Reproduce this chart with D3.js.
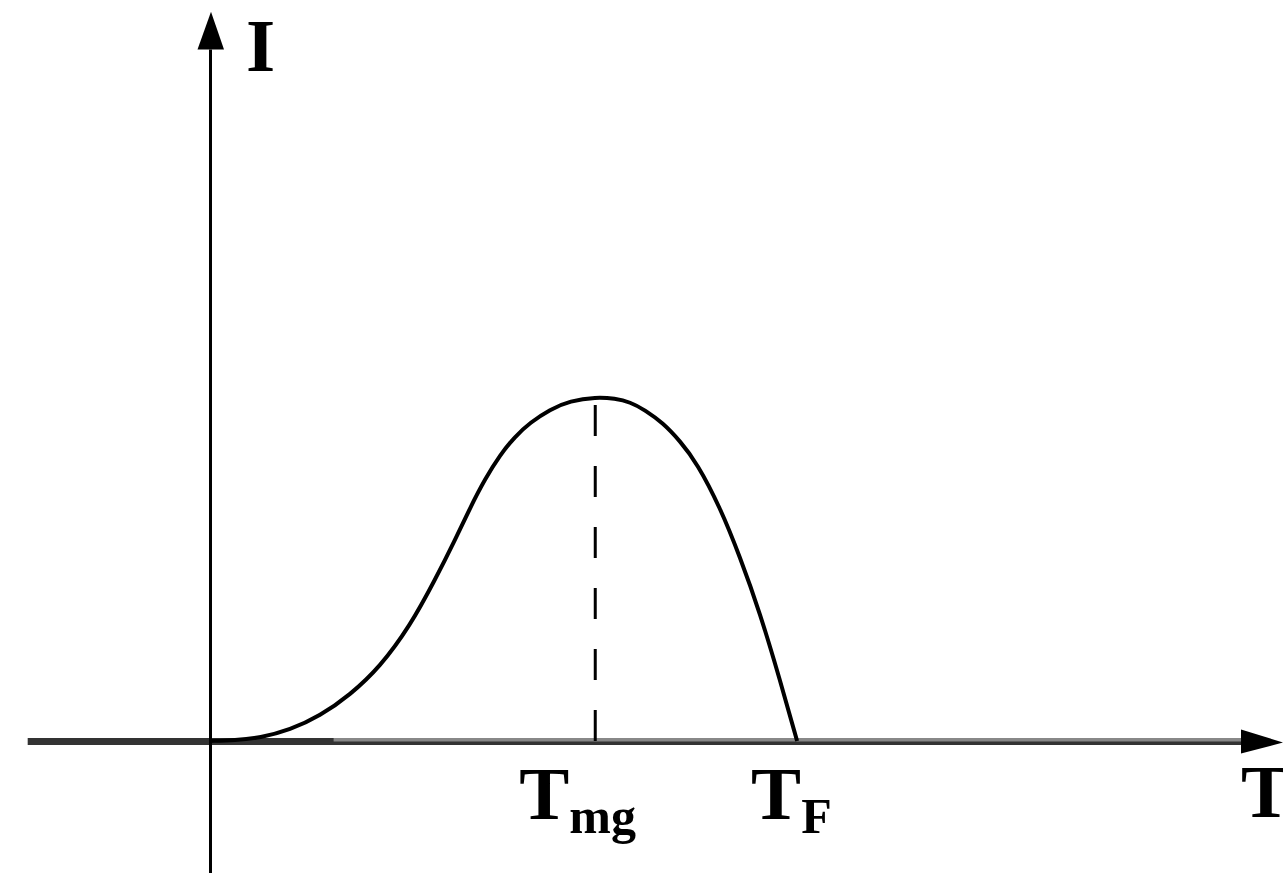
<!DOCTYPE html>
<html>
<head>
<meta charset="utf-8">
<script src="https://cdn.jsdelivr.net/npm/d3@7"></script>
<style>
  html, body { margin: 0; padding: 0; background: #fff; overflow: hidden; }
  #vis { width: 1283px; height: 873px; }
</style>
</head>
<body>
<div id="vis"></div>
<script>
// curve samples: temperature T (arbitrary units) and intensity I (relative to peak)
var curveT = [0, 2.43, 4.85, 7.77, 10.68, 13.59, 16.50, 19.42, 21.84, 23.79, 25.24, 26.70, 28.16, 29.61, 31.07, 33.01, 34.95, 37.48, 39.32, 40.78, 42.23, 43.98, 45.63, 47.28, 49.51, 51.46, 53.40, 55.34, 57.0];
var curveI = [0, 0.0023, 0.0087, 0.032, 0.0727, 0.1337, 0.2151, 0.3343, 0.468, 0.5843, 0.6773, 0.7616, 0.8314, 0.8852, 0.9253, 0.9642, 0.9887, 1.0, 0.9956, 0.9855, 0.9622, 0.9244, 0.8721, 0.8081, 0.6802, 0.5349, 0.3721, 0.1773, 0];

// marked temperatures on the T axis
var markNames = ["T_mg", "T_F"];
var markValues = [37.5, 57.0];
var peakT = 37.5;
var peakI = 1.0;

// axis extents
var tExtent = [-17.7, 104.2];
var iExtent = [-0.385, 2.12];
var axisTitles = ["I", "T"];

var W = 1283, H = 873;
var font = '"Liberation Serif", "Times New Roman", serif';

var x = d3.scaleLinear().domain([0, 100]).range([210, 1240]);
var y = d3.scaleLinear().domain([0, 1]).range([741, 397]);

var svg = d3.select("#vis")
    .append("svg")
    .attr("width", W)
    .attr("height", H);

var curve = curveT.map(function (t, i) { return { t: t, v: curveI[i] }; });

// T axis: dark lower band all along, lighter top band after the first stretch
svg.append("line")
    .attr("x1", x(tExtent[0])).attr("x2", x(100.2))
    .attr("y1", y(0) + 0.5).attr("y2", y(0) + 0.5)
    .attr("stroke", "#333").attr("stroke-width", 7);
svg.append("line")
    .attr("x1", x(12.0)).attr("x2", x(100.2))
    .attr("y1", y(0) - 1.2).attr("y2", y(0) - 1.2)
    .attr("stroke", "#888").attr("stroke-width", 3.4);

svg.append("path")
    .attr("d", d3.line()([
        [x(100.1), y(0) - 11.5],
        [x(tExtent[1]), y(0) + 1.5],
        [x(100.1), y(0) + 12.5]
    ]) + "Z")
    .attr("fill", "#000");

// I axis
svg.append("line")
    .attr("x1", x(0) + 0.5).attr("x2", x(0) + 0.5)
    .attr("y1", y(iExtent[0])).attr("y2", y(2.01))
    .attr("stroke", "#000").attr("stroke-width", 3);

svg.append("path")
    .attr("d", d3.line()([
        [x(0) - 12.5, y(2.01)],
        [x(0) + 1, y(iExtent[1])],
        [x(0) + 14, y(2.01)]
    ]) + "Z")
    .attr("fill", "#000");

// dashed drop line from the peak
svg.append("line")
    .attr("x1", x(peakT) - 1).attr("x2", x(peakT) - 1)
    .attr("y1", y(0)).attr("y2", y(peakI))
    .attr("stroke", "#000").attr("stroke-width", 3)
    .attr("stroke-dasharray", "31,30");

// the curve
svg.append("path")
    .datum(curve)
    .attr("d", d3.line()
        .x(function (d) { return x(d.t); })
        .y(function (d) { return y(d.v); })
        .curve(d3.curveBasis))
    .attr("fill", "none")
    .attr("stroke", "#000")
    .attr("stroke-width", 4);

// axis titles
svg.append("text")
    .attr("x", x(0) + 36)
    .attr("y", 71)
    .style("font-family", font)
    .style("font-weight", "bold")
    .style("font-size", "75px")
    .attr("fill", "#000")
    .text(axisTitles[0]);

svg.append("text")
    .attr("x", 1241)
    .attr("y", 817)
    .style("font-family", font)
    .style("font-weight", "bold")
    .style("font-size", "75px")
    .attr("fill", "#000")
    .text(axisTitles[1]);

// marker labels, T with subscript
var labelShift = [-77, -46];
markNames.forEach(function (name, i) {
    var parts = name.split("_");
    var t = svg.append("text")
        .attr("x", x(markValues[i]) + labelShift[i])
        .attr("y", 819)
        .style("font-family", font)
        .style("font-weight", "bold")
        .style("font-size", "75px")
        .attr("fill", "#000");
    t.append("tspan").text(parts[0]);
    t.append("tspan")
        .attr("dy", 14)
        .style("font-size", "50px")
        .text(parts[1]);
});
</script>
</body>
</html>
